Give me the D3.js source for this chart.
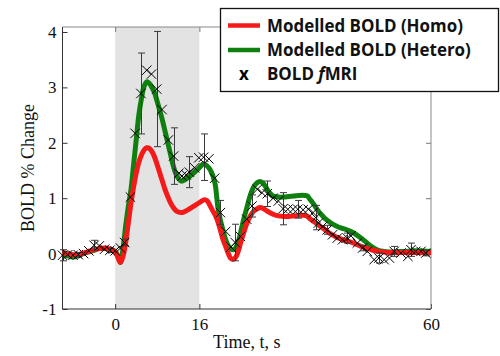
<!DOCTYPE html>
<html><head><meta charset="utf-8">
<script src="https://cdn.jsdelivr.net/npm/d3@7"></script>
<style>body{margin:0;background:#fff}svg{display:block}</style>
</head><body>
<svg id="c" width="500" height="356"></svg>
<script>
// ---- data ----
const stimWindow = [0, 16];
const xTicks = [0, 16, 60];
const yTicks = [-1, 0, 1, 2, 3, 4];

const homoT = [-10,-9,-8,-7,-6,-5,-4,-3,-2,-1,-0.5,0,0.5,1,1.5,2,2.5,3,3.5,4,4.5,5,5.5,6,6.5,7,7.5,8,8.5,9,9.5,10,10.5,11,11.5,12,12.5,13,14,15,16,17,17.5,18,18.5,19,19.5,20,20.5,21,21.5,22,22.5,23,23.5,24,24.5,25,25.5,26,26.5,27,27.5,28,29,30,31,32,33,34,35,36,36.5,37,38,39,40,41,42,43,44,45,46,47,48,49,50,52,55,58,60];
const homoV = [0.02,0.0,-0.02,-0.02,0.01,0.04,0.07,0.09,0.1,0.08,0.06,0.03,-0.06,-0.16,-0.05,0.2,0.55,0.9,1.2,1.45,1.65,1.78,1.87,1.91,1.9,1.84,1.74,1.6,1.45,1.3,1.15,1.03,0.92,0.84,0.78,0.75,0.74,0.75,0.8,0.86,0.92,0.97,0.95,0.87,0.78,0.7,0.58,0.42,0.25,0.13,0.0,-0.09,-0.1,-0.05,0.08,0.25,0.4,0.54,0.65,0.73,0.78,0.81,0.83,0.82,0.76,0.71,0.68,0.67,0.67,0.68,0.69,0.69,0.67,0.63,0.56,0.49,0.42,0.35,0.3,0.26,0.23,0.2,0.16,0.12,0.09,0.06,0.04,0.02,0.02,0.02,0.02];

const heteroT = [-10,-9,-8,-7,-6,-5,-4,-3,-2,-1,0,0.5,1,1.5,2,2.5,3,3.5,4,4.5,5,5.5,6,6.5,7,7.5,8,8.5,9,9.5,10,10.5,11,11.5,12,12.5,13,13.5,14,15,16,16.8,17.5,18,18.5,19,19.5,20,20.5,21,21.5,22,22.5,23,23.5,24,24.5,25,25.5,26,26.5,27,27.5,28,28.5,29,29.5,30,31,32,33,34,35,36,36.5,37,37.5,38,38.5,39,39.5,40,41,42,43,44,45,46,47,48,49,50,51,52,53,55,57,60];
const heteroV = [0.0,-0.04,-0.06,-0.04,0.0,0.03,0.06,0.09,0.09,0.07,0.04,-0.05,-0.16,0.1,0.5,0.85,1.15,1.6,2.05,2.5,2.8,3.02,3.1,3.07,3.0,2.9,2.74,2.58,2.4,2.2,2.0,1.8,1.6,1.45,1.36,1.31,1.32,1.35,1.38,1.46,1.55,1.62,1.58,1.52,1.42,1.25,0.85,0.6,0.42,0.25,0.14,0.08,0.07,0.12,0.25,0.45,0.65,0.82,1.0,1.14,1.23,1.28,1.3,1.28,1.22,1.14,1.08,1.04,1.02,1.02,1.03,1.04,1.05,1.05,1.04,0.98,0.92,0.85,0.78,0.72,0.67,0.62,0.55,0.5,0.46,0.43,0.39,0.33,0.26,0.18,0.11,0.06,0.04,0.03,0.03,0.04,0.05,0.04];

const fmriT = [-10,-9,-8,-7,-6,-5,-4,-3,-2,-1,0,1,1.8,2.9,3.8,4.9,6.0,6.9,7.9,8.9,10.1,11.1,12.1,12.7,13.5,14.1,15.1,15.9,16.8,17.8,18.9,20.0,21.0,22.0,22.8,23.8,25.0,26.0,27.0,27.9,28.9,30.0,31.0,31.9,32.8,33.8,34.7,35.7,36.7,37.6,38.1,38.6,39.4,40.3,41.3,42.2,43.2,44.1,44.8,46.0,47.0,47.9,49.2,50.1,51.1,52.1,53.0,54.3,55.6,56.2,57.1,58.1,59.0];
const fmriV = [-0.03,-0.02,-0.03,-0.02,0.0,0.05,0.15,0.14,0.08,0.06,0.05,0.1,0.2,1.02,2.17,2.89,3.31,3.24,2.97,2.6,2.05,1.76,1.45,1.40,1.42,1.47,1.55,1.73,1.74,1.71,1.36,0.74,0.4,0.12,0.2,0.31,0.62,0.86,1.16,1.10,1.08,1.0,0.95,0.81,0.8,0.8,0.8,0.79,0.8,0.74,0.65,0.55,0.49,0.43,0.34,0.28,0.25,0.28,0.32,0.19,0.1,0.04,-0.11,-0.08,-0.11,-0.08,0.04,0.01,-0.05,0.07,0.04,0.04,0.01];
const fmriErr = [0.1,0,0,0.04,0,0,0.09,0,0,0.04,0,0,0.06,0,0,0.73,0,0,1.04,0,0,0.51,0,0,0,0.28,0,0,0.42,0,0,0.22,0,0,0.33,0,0,0.2,0,0,0.23,0,0,0.29,0,0,0.16,0,0,0,0.22,0,0,0.08,0,0,0,0.09,0,0,0.05,0,0,0.09,0,0,0.09,0,0,0.12,0,0,0.05];

const legendLabels = ["Modelled BOLD (Homo)", "Modelled BOLD (Hetero)", "BOLD fMRI"];
const colors = {homo: "#f41a1a", hetero: "#0f800f"};

// ---- layout ----
const svg = d3.select("#c");
const L = 62.5, R = 431, T = 27, B = 309;
const x = d3.scaleLinear().domain([-10, 60]).range([L, R]);
const y = d3.scaleLinear().domain([-1, 4.09]).range([B, T]);

// stimulus shading
svg.append("rect")
  .attr("x", x(stimWindow[0])).attr("y", T)
  .attr("width", x(stimWindow[1]) - x(stimWindow[0])).attr("height", B - T)
  .attr("fill", "#e3e3e3");

const serif = "'Liberation Serif','Times New Roman',serif";
const fmt = d => String(d);

// axes
function styleAxis(g, col) {
  g.select(".domain").remove();
  g.selectAll("line").attr("stroke", col).attr("stroke-width", 1);
  g.selectAll("text").attr("font-family", serif).attr("font-size", 17).attr("fill", "#111");
}
svg.append("g").attr("transform", `translate(${L},0)`)
  .call(d3.axisLeft(y).tickValues(yTicks).tickFormat(fmt).tickSizeInner(-5).tickSizeOuter(0).tickPadding(6))
  .call(g => styleAxis(g, "#333"));
svg.append("g").attr("transform", `translate(${R},0)`)
  .call(d3.axisRight(y).tickValues(yTicks).tickFormat("").tickSizeInner(-5).tickSizeOuter(0))
  .call(g => styleAxis(g, "#777"));
svg.append("g").attr("transform", `translate(0,${B})`)
  .call(d3.axisBottom(x).tickValues(xTicks).tickFormat(fmt).tickSizeInner(-5).tickSizeOuter(0).tickPadding(9))
  .call(g => styleAxis(g, "#333"));
svg.append("g").attr("transform", `translate(0,${T})`)
  .call(d3.axisTop(x).tickValues(xTicks).tickFormat("").tickSizeInner(-5).tickSizeOuter(0))
  .call(g => styleAxis(g, "#777"));

// frame
svg.append("line").attr("x1", L).attr("x2", R).attr("y1", T).attr("y2", T).attr("stroke", "#888");
svg.append("line").attr("x1", R).attr("x2", R).attr("y1", T).attr("y2", B).attr("stroke", "#888");
svg.append("line").attr("x1", L).attr("x2", L).attr("y1", T).attr("y2", B).attr("stroke", "#333");
svg.append("line").attr("x1", L).attr("x2", R).attr("y1", B).attr("y2", B).attr("stroke", "#333");

// curves
const line = d3.line().x(d => x(d[0])).y(d => y(d[1])).curve(d3.curveCatmullRom.alpha(0.5));
svg.append("path").datum(heteroT.map((t, i) => [t, heteroV[i]]))
  .attr("d", line).attr("fill", "none").attr("stroke", colors.hetero).attr("stroke-width", 5).attr("stroke-linejoin", "round");
svg.append("path").datum(homoT.map((t, i) => [t, homoV[i]]))
  .attr("d", line).attr("fill", "none").attr("stroke", colors.homo).attr("stroke-width", 5).attr("stroke-linejoin", "round");

// fMRI error bars
const pts = fmriT.map((t, i) => ({t, v: fmriV[i], e: fmriErr[i]}));
const eb = svg.append("g").attr("stroke", "#3a3a3a").attr("stroke-width", 1);
pts.filter(d => d.e > 0).forEach(d => {
  const cx = Math.round(x(d.t)) + 0.5;
  eb.append("line").attr("x1", cx).attr("x2", cx).attr("y1", y(d.v + d.e)).attr("y2", y(d.v - d.e));
  eb.append("line").attr("x1", cx - 3.5).attr("x2", cx + 3.5).attr("y1", y(d.v + d.e)).attr("y2", y(d.v + d.e));
  eb.append("line").attr("x1", cx - 3.5).attr("x2", cx + 3.5).attr("y1", y(d.v - d.e)).attr("y2", y(d.v - d.e));
});
// x markers
svg.append("g").selectAll("path").data(pts).join("path")
  .attr("d", d3.symbol(d3.symbolTimes, 60))
  .attr("transform", d => `translate(${x(d.t)},${y(d.v)})`)
  .attr("fill", "none").attr("stroke", "#000").attr("stroke-width", 1);

// axis titles
svg.append("text").attr("x", (L + R) / 2).attr("y", 348).attr("text-anchor", "middle")
  .attr("font-family", serif).attr("font-size", 18).attr("fill", "#111").text("Time, t, s");
svg.append("text").attr("transform", `translate(34,${(T + B) / 2}) rotate(-90)`).attr("text-anchor", "middle")
  .attr("font-family", serif).attr("font-size", 18).attr("fill", "#111").text("BOLD % Change");

// legend
const lg = svg.append("g");
lg.append("rect").attr("x", 220.5).attr("y", 8.5).attr("width", 278).attr("height", 83)
  .attr("fill", "#fff").attr("stroke", "#111").attr("stroke-width", 1.3);
const sans = "'Open Sans', Lato, sans-serif";
const fs = 16;
const rowsY = [31.5, 56, 80];
[colors.homo, colors.hetero].forEach((c, i) => {
  lg.append("line").attr("x1", 228).attr("x2", 260).attr("y1", rowsY[i] - 6).attr("y2", rowsY[i] - 6)
    .attr("stroke", c).attr("stroke-width", 4.5);
});
lg.append("text").attr("x", 244).attr("y", rowsY[2]).attr("text-anchor", "middle")
  .attr("font-family", sans).attr("font-weight", 700).attr("font-size", fs).text("x");
const texts = legendLabels.map((s, i) => {
  const t = lg.append("text").attr("x", 267).attr("y", rowsY[i])
    .attr("font-family", sans).attr("font-weight", 700).attr("font-size", fs).attr("fill", "#111");
  if (i === 2) {
    t.append("tspan").text("BOLD ");
    t.append("tspan").attr("font-style", "italic").text("f");
    t.append("tspan").text("MRI");
  } else t.text(s);
  return t;
});
// fit legend label width to the reference (Hetero label ≈ 204px)
const w = texts[1].node().getComputedTextLength();
const nfs = fs * 204 / w;
lg.selectAll("text").attr("font-size", nfs);
</script>
</body></html>
